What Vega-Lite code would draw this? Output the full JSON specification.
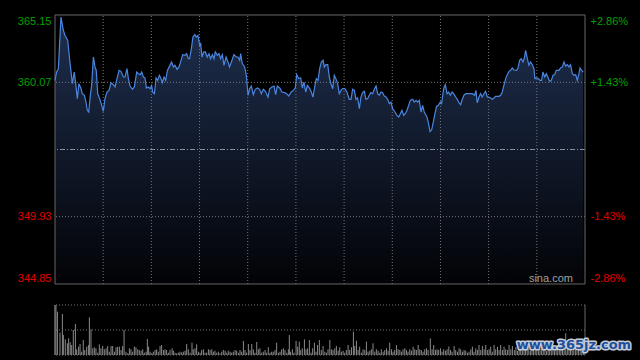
{
  "$schema": "https://vega.github.io/schema/vega-lite/v6.json",
  "width": 530,
  "height": 340,
  "autosize": {"type": "none"},
  "padding": {"left": 55, "top": 15, "right": 55, "bottom": 5},
  "background": "#000000",
  "config": {
    "view": {"stroke": null},
    "axis": {"domain": false, "ticks": false, "grid": false, "labelFont": "Liberation Sans", "labelFontSize": 11}
  },
  "datasets": {
    "price": [
      {"t":0,"p":360.22},{"t":1.0,"p":360.85},{"t":2.1,"p":361.10},{"t":3.7,"p":365.00},{"t":5.2,"p":363.99},{"t":6.2,"p":363.62},{"t":7.9,"p":363.24},{"t":9.3,"p":361.60},{"t":10.8,"p":359.97},{"t":12.0,"p":360.85},{"t":12.9,"p":359.97},{"t":13.9,"p":358.84},{"t":14.9,"p":359.97},{"t":16.2,"p":359.59},{"t":17.0,"p":359.21},{"t":18.3,"p":359.09},{"t":19.3,"p":358.58},{"t":20.1,"p":357.96},{"t":21.0,"p":357.83},{"t":22.0,"p":359.09},{"t":22.8,"p":359.84},{"t":23.9,"p":361.98},{"t":24.9,"p":361.23},{"t":25.7,"p":360.97},{"t":26.6,"p":359.21},{"t":27.8,"p":358.84},{"t":29.1,"p":358.33},{"t":30.1,"p":357.88},{"t":31.1,"p":358.84},{"t":32.4,"p":359.34},{"t":33.6,"p":359.46},{"t":34.9,"p":360.04},{"t":36.3,"p":359.89},{"t":37.4,"p":359.72},{"t":38.6,"p":360.35},{"t":39.9,"p":360.97},{"t":41.1,"p":360.90},{"t":42.6,"p":360.47},{"t":43.6,"p":360.47},{"t":44.8,"p":361.10},{"t":45.7,"p":360.35},{"t":46.7,"p":359.79},{"t":48.2,"p":359.54},{"t":49.4,"p":359.72},{"t":50.9,"p":360.85},{"t":51.9,"p":360.72},{"t":53.1,"p":360.65},{"t":54.0,"p":360.85},{"t":55.0,"p":360.47},{"t":56.0,"p":360.40},{"t":56.9,"p":359.64},{"t":58.1,"p":359.72},{"t":59.2,"p":359.59},{"t":60.2,"p":359.84},{"t":60.8,"p":359.34},{"t":61.9,"p":359.21},{"t":62.9,"p":360.40},{"t":63.9,"p":360.22},{"t":65.0,"p":360.60},{"t":66.0,"p":360.35},{"t":66.8,"p":360.04},{"t":67.9,"p":360.47},{"t":68.9,"p":360.22},{"t":70.0,"p":360.97},{"t":71.6,"p":361.35},{"t":72.6,"p":361.60},{"t":73.7,"p":361.23},{"t":74.7,"p":361.35},{"t":76.0,"p":361.05},{"t":77.2,"p":361.23},{"t":78.5,"p":361.73},{"t":79.5,"p":362.16},{"t":81.0,"p":362.11},{"t":82.0,"p":362.23},{"t":83.0,"p":361.85},{"t":83.8,"p":361.85},
      {"t":84.9,"p":362.61},{"t":85.9,"p":363.49},{"t":87.0,"p":363.67},{"t":88.0,"p":363.49},{"t":89.0,"p":363.61},{"t":90.1,"p":362.86},{"t":90.7,"p":362.99},{"t":91.5,"p":361.98},{"t":92.6,"p":362.36},{"t":93.6,"p":362.36},{"t":94.8,"p":361.98},{"t":95.9,"p":362.23},{"t":96.9,"p":361.85},{"t":98.0,"p":362.16},{"t":99.0,"p":361.85},{"t":99.8,"p":362.36},{"t":101.1,"p":362.11},{"t":102.1,"p":362.23},{"t":103.1,"p":361.85},{"t":104.2,"p":362.16},{"t":105.2,"p":361.35},{"t":106.5,"p":361.98},{"t":107.7,"p":361.60},{"t":108.7,"p":361.23},{"t":110.2,"p":361.73},{"t":111.4,"p":362.16},{"t":112.9,"p":361.98},{"t":113.9,"p":361.98},{"t":115.0,"p":361.73},{"t":115.6,"p":362.23},{"t":116.6,"p":361.48},{"t":118.1,"p":361.23},{"t":119.1,"p":360.60},{"t":120.2,"p":359.09},{"t":121.2,"p":359.59},{"t":122.2,"p":359.79},{"t":123.5,"p":359.14},{"t":124.7,"p":359.54},{"t":126.0,"p":359.64},{"t":127.4,"p":359.54},{"t":128.5,"p":359.21},{"t":129.7,"p":359.54},{"t":131.0,"p":359.39},{"t":132.6,"p":358.96},{"t":133.7,"p":359.59},{"t":135.1,"p":359.72},{"t":136.4,"p":359.79},{"t":137.4,"p":359.14},{"t":138.4,"p":359.79},{"t":139.9,"p":359.64},{"t":141.3,"p":359.34},{"t":143.0,"p":359.29},{"t":144.2,"p":359.21},{"t":145.5,"p":359.04},{"t":147.1,"p":359.34},{"t":148.4,"p":359.46},{"t":149.6,"p":359.64},{"t":150.5,"p":360.65},{"t":151.7,"p":360.35},{"t":153.0,"p":360.40},{"t":154.0,"p":359.64},{"t":155.0,"p":360.09},{"t":156.1,"p":359.34},{"t":157.1,"p":359.84},{"t":158.6,"p":359.59},{"t":159.6,"p":359.34},{"t":160.6,"p":358.96},{"t":161.7,"p":359.72},{"t":162.7,"p":360.35},{"t":163.8,"p":360.22},{"t":164.8,"p":361.10},{"t":165.8,"p":361.60},{"t":166.9,"p":361.73},
      {"t":167.7,"p":361.23},{"t":168.7,"p":361.40},{"t":169.8,"p":361.40},{"t":170.8,"p":360.47},{"t":171.8,"p":359.97},{"t":172.9,"p":359.59},{"t":173.9,"p":360.60},{"t":174.9,"p":360.35},{"t":176.0,"p":359.97},{"t":177.0,"p":359.21},{"t":178.1,"p":359.46},{"t":179.1,"p":359.59},{"t":180.5,"p":359.59},{"t":181.8,"p":359.34},{"t":183.2,"p":358.79},{"t":184.3,"p":358.79},{"t":185.3,"p":359.54},{"t":186.4,"p":359.46},{"t":187.4,"p":358.79},{"t":188.4,"p":358.89},{"t":189.5,"p":358.08},{"t":190.5,"p":358.96},{"t":191.5,"p":359.29},{"t":192.6,"p":359.39},{"t":193.6,"p":358.79},{"t":194.7,"p":358.84},{"t":195.7,"p":359.09},{"t":196.7,"p":359.29},{"t":197.8,"p":359.21},{"t":198.8,"p":359.54},{"t":199.9,"p":359.79},{"t":200.9,"p":359.21},{"t":201.9,"p":359.09},{"t":203.0,"p":359.34},{"t":204.0,"p":359.29},{"t":205.0,"p":359.04},{"t":206.1,"p":358.96},{"t":207.1,"p":358.79},{"t":208.2,"p":358.46},{"t":209.2,"p":358.58},{"t":210.2,"p":358.08},{"t":211.7,"p":357.83},{"t":212.9,"p":357.58},{"t":214.0,"p":357.45},{"t":215.0,"p":357.70},{"t":216.0,"p":357.96},{"t":217.1,"p":357.58},{"t":218.1,"p":357.70},{"t":219.2,"p":357.96},{"t":220.2,"p":358.33},{"t":221.2,"p":358.71},{"t":222.7,"p":358.79},{"t":223.7,"p":358.58},{"t":224.8,"p":358.71},{"t":225.8,"p":358.58},{"t":226.8,"p":358.71},{"t":227.9,"p":357.83},{"t":228.9,"p":358.33},{"t":229.9,"p":357.83},{"t":231.6,"p":357.45},{"t":232.4,"p":357.07},{"t":233.5,"p":356.35},{"t":234.5,"p":356.47},{"t":235.6,"p":357.10},{"t":236.6,"p":357.73},{"t":237.6,"p":358.25},{"t":238.7,"p":358.33},{"t":239.9,"p":358.58},{"t":240.7,"p":358.46},{"t":242.0,"p":359.59},{"t":243.0,"p":359.89},{"t":244.1,"p":359.21},{"t":245.1,"p":359.34},{"t":246.1,"p":359.09},{"t":247.2,"p":359.34},{"t":248.2,"p":359.21},{"t":249.5,"p":358.96},
      {"t":250.5,"p":358.79},{"t":251.5,"p":358.53},{"t":252.6,"p":358.38},{"t":253.6,"p":358.79},{"t":254.6,"p":359.09},{"t":255.7,"p":359.21},{"t":257.7,"p":359.21},{"t":259.8,"p":359.21},{"t":261.3,"p":359.09},{"t":262.1,"p":359.46},{"t":262.9,"p":358.53},{"t":264.0,"p":358.96},{"t":265.0,"p":359.21},{"t":266.0,"p":358.96},{"t":267.1,"p":359.21},{"t":268.1,"p":359.39},{"t":269.2,"p":358.96},{"t":270.2,"p":358.96},{"t":271.2,"p":358.89},{"t":272.3,"p":358.79},{"t":273.3,"p":358.89},{"t":274.3,"p":359.01},{"t":276.4,"p":359.01},{"t":277.5,"p":359.09},{"t":278.5,"p":359.34},{"t":279.5,"p":359.84},{"t":280.6,"p":360.35},{"t":281.6,"p":360.65},{"t":282.7,"p":360.90},{"t":283.7,"p":360.97},{"t":284.7,"p":361.15},{"t":285.8,"p":361.00},{"t":287.4,"p":360.97},{"t":288.3,"p":361.15},{"t":289.3,"p":361.73},{"t":290.3,"p":361.85},{"t":291.4,"p":361.60},{"t":292.4,"p":361.98},{"t":293.0,"p":362.48},{"t":294.1,"p":361.85},{"t":295.1,"p":361.35},{"t":296.1,"p":361.60},{"t":297.2,"p":361.40},{"t":298.2,"p":361.10},{"t":298.8,"p":360.35},{"t":299.9,"p":360.40},{"t":300.9,"p":360.35},{"t":302.0,"p":360.22},{"t":303.0,"p":360.22},{"t":303.8,"p":360.85},{"t":304.9,"p":360.47},{"t":305.9,"p":360.72},{"t":306.9,"p":360.47},{"t":308.0,"p":360.14},{"t":309.0,"p":360.22},{"t":310.1,"p":360.60},{"t":311.1,"p":360.65},{"t":312.1,"p":360.97},{"t":313.8,"p":360.97},{"t":314.8,"p":361.15},{"t":315.9,"p":361.23},{"t":316.9,"p":361.60},{"t":317.9,"p":361.30},{"t":319.0,"p":361.40},{"t":320.0,"p":361.23},{"t":321.0,"p":361.40},{"t":322.1,"p":360.72},{"t":323.1,"p":360.60},{"t":324.2,"p":360.65},{"t":325.2,"p":360.22},{"t":326.2,"p":360.72},{"t":326.9,"p":361.15},{"t":327.9,"p":360.97},{"t":328.9,"p":360.85}
    ],
    "volume": [
      {"t":0,"v":50},{"t":0.6,"v":50},{"t":1.5,"v":43.3},{"t":3.1,"v":22.3},{"t":4.6,"v":41},{"t":5.2,"v":20},{"t":6.4,"v":15.7},{"t":7.7,"v":11.7},{"t":8.5,"v":16.7},{"t":9.5,"v":12.7},{"t":10.4,"v":10},{"t":11.4,"v":25},{"t":12.7,"v":31},{"t":13.5,"v":5.7},{"t":14.7,"v":8.3},{"t":15.6,"v":11},{"t":16.6,"v":3.3},{"t":17.6,"v":15},{"t":18.5,"v":5},{"t":19.7,"v":8.3},{"t":20.8,"v":10},{"t":21.4,"v":37.7},{"t":22.4,"v":25.7},{"t":23.5,"v":6.7},{"t":24.5,"v":7.7},{"t":25.5,"v":6.7},{"t":26.6,"v":2.3},{"t":27.6,"v":10.7},{"t":28.6,"v":6.7},{"t":29.7,"v":9},{"t":30.7,"v":5.7},{"t":31.8,"v":6.7},{"t":32.8,"v":9},{"t":33.8,"v":3.3},{"t":34.9,"v":9},{"t":35.9,"v":9},{"t":37,"v":3.3},{"t":38,"v":7.7},{"t":39,"v":8.3},{"t":40.1,"v":8.3},{"t":41.1,"v":5},{"t":42.1,"v":9},{"t":43,"v":25},{"t":44.2,"v":3.3},{"t":45.3,"v":1.7},{"t":46.3,"v":6.7},{"t":47.3,"v":5.7},{"t":48.4,"v":3.3},{"t":49.4,"v":8.3},{"t":50.4,"v":7.7},{"t":51.5,"v":5.7},{"t":52.5,"v":5},{"t":53.6,"v":4.3},{"t":54.6,"v":5.7},{"t":55.6,"v":2.3},{"t":56.7,"v":3.3},{"t":57.5,"v":16},{"t":58.3,"v":8.3},{"t":59.2,"v":3.3},{"t":60.2,"v":1.7},{"t":61.2,"v":3.3},{"t":62.3,"v":5},{"t":63.3,"v":5.7},{"t":64.3,"v":3.3},{"t":65.4,"v":9},{"t":66.4,"v":10},{"t":67.5,"v":5},{"t":68.5,"v":5.7},{"t":69.5,"v":5},{"t":70.6,"v":2.3},{"t":71.6,"v":5},{"t":72.9,"v":6.7},{"t":73.7,"v":4.3},{"t":74.7,"v":2.3},{"t":75.8,"v":1.7},{"t":76.8,"v":2.3},{"t":77.8,"v":3.3},{"t":78.9,"v":2.7},{"t":79.9,"v":3.3},{"t":81,"v":4.3},{"t":82,"v":11},{"t":83,"v":5.7},{"t":84.1,"v":2.3},{"t":85.3,"v":12.3},{"t":86.1,"v":5.7},{"t":87.2,"v":6.7},{"t":88.2,"v":10.7},{"t":89.3,"v":3.3},{"t":90.3,"v":2.3},{"t":91.3,"v":5},{"t":92.4,"v":5.7},{"t":93.4,"v":2.3},{"t":94.4,"v":2.3},{"t":95.5,"v":5.7},{"t":96.5,"v":5},{"t":97.6,"v":5.7},{"t":98.6,"v":3.3},{"t":99.6,"v":4.3},{"t":100.7,"v":2.3},{"t":101.7,"v":3.3},{"t":102.7,"v":1.7},{"t":103.8,"v":3.3},{"t":104.8,"v":5},{"t":105.9,"v":4.3},{"t":106.9,"v":2.3},{"t":107.9,"v":4.3},{"t":109,"v":3.3},{"t":110,"v":2.3},{"t":111,"v":3.3},{"t":112.1,"v":5},{"t":113.1,"v":4.3},{"t":114.2,"v":2.3},{"t":115.2,"v":5},{"t":116.2,"v":3.3},{"t":117.3,"v":14},{"t":118.3,"v":5},{"t":119.3,"v":2.3},{"t":120.4,"v":11},{"t":121.4,"v":5},{"t":122.5,"v":11},{"t":123.5,"v":5.7},{"t":124.5,"v":2.3},{"t":125.6,"v":13},{"t":126.6,"v":5.7},{"t":127.6,"v":6.7},{"t":128.7,"v":2.3},{"t":129.7,"v":3.3},{"t":130.8,"v":5},{"t":131.8,"v":2.3},{"t":132.8,"v":7.7},{"t":133.9,"v":2.3},{"t":134.9,"v":3.3},{"t":135.9,"v":3.3},{"t":137,"v":5},{"t":138,"v":12.3},{"t":139.1,"v":2.3},{"t":140.1,"v":3.3},{"t":141.1,"v":5.7},{"t":142.2,"v":6.7},{"t":143.2,"v":5},{"t":144.3,"v":2.3},{"t":145.3,"v":5.7},{"t":145.9,"v":20},{"t":146.7,"v":3.3},{"t":147.8,"v":5.7},{"t":148.8,"v":2.3},{"t":150.1,"v":14},{"t":151.1,"v":8.3},{"t":152.1,"v":13.3},{"t":153,"v":5},{"t":154,"v":6.7},{"t":155.3,"v":15.7},{"t":156.3,"v":5.7},{"t":157.3,"v":6.7},{"t":158.4,"v":15},{"t":159.4,"v":2.3},{"t":160.4,"v":6.7},{"t":161.5,"v":12.3},{"t":162.5,"v":3.3},{"t":163.5,"v":10},{"t":164.6,"v":15},
      {"t":165.8,"v":5},{"t":166.9,"v":9},{"t":168,"v":3.3},{"t":169,"v":2.3},{"t":170,"v":5.7},{"t":171.1,"v":15},{"t":172.1,"v":5.7},{"t":173.1,"v":5},{"t":174.2,"v":6.7},{"t":175.2,"v":9},{"t":176.3,"v":4.3},{"t":177.3,"v":7.7},{"t":178.3,"v":3.3},{"t":179.4,"v":4.3},{"t":180.4,"v":2.3},{"t":181.4,"v":5},{"t":182.5,"v":10},{"t":183.5,"v":5},{"t":184.6,"v":7.7},{"t":185.8,"v":23.3},{"t":186.6,"v":9},{"t":187.7,"v":14.3},{"t":188.7,"v":5},{"t":189.7,"v":8.3},{"t":190.8,"v":2.3},{"t":191.8,"v":5.7},{"t":192.9,"v":5},{"t":193.9,"v":13.3},{"t":194.9,"v":3.3},{"t":196,"v":4.3},{"t":197,"v":5.7},{"t":198,"v":11.7},{"t":199.1,"v":3.3},{"t":200.1,"v":5.7},{"t":201.2,"v":4.3},{"t":202.2,"v":2.3},{"t":203.2,"v":5.7},{"t":204.3,"v":3.3},{"t":205.3,"v":5},{"t":206.4,"v":6.7},{"t":207.4,"v":4.3},{"t":208.4,"v":12.3},{"t":209.5,"v":5.7},{"t":210.5,"v":3.3},{"t":211.5,"v":5},{"t":212.6,"v":10},{"t":213.6,"v":5.7},{"t":214.7,"v":5},{"t":215.7,"v":3.3},{"t":216.7,"v":5.7},{"t":217.8,"v":6.7},{"t":218.8,"v":5},{"t":219.8,"v":3.3},{"t":220.9,"v":5.7},{"t":221.9,"v":4.3},{"t":223,"v":8.3},{"t":224,"v":5.7},{"t":225,"v":5},{"t":226.1,"v":10},{"t":227.1,"v":5.7},{"t":228.1,"v":5},{"t":229.2,"v":3.3},{"t":230.2,"v":5.7},{"t":231.3,"v":6.7},{"t":232.3,"v":5},{"t":233.7,"v":16.7},{"t":234.8,"v":5.7},{"t":235.8,"v":10},{"t":236.9,"v":5},{"t":237.9,"v":5.7},{"t":238.9,"v":5},{"t":240,"v":6.7},{"t":241,"v":3.3},{"t":242,"v":5.7},{"t":243.1,"v":4.3},{"t":244.1,"v":5.7},{"t":245.2,"v":8.3},{"t":246.2,"v":5},{"t":247.2,"v":3.3},{"t":248.5,"v":9},{"t":249.5,"v":5},{"t":250.6,"v":3.3},{"t":251.6,"v":6.7},{"t":252.6,"v":5.7},{"t":253.7,"v":3.3},{"t":254.7,"v":5},{"t":255.7,"v":4.3},{"t":256.8,"v":2.3},{"t":257.8,"v":3.3},{"t":258.9,"v":5.7},{"t":259.9,"v":8.3},{"t":260.9,"v":3.3},{"t":262,"v":6.7},{"t":263,"v":5},{"t":264,"v":10},{"t":265.1,"v":5},{"t":266.1,"v":9},{"t":267.2,"v":5.7},{"t":268.2,"v":10},{"t":269.2,"v":5},{"t":270.3,"v":5.7},{"t":271.3,"v":8.3},{"t":272.3,"v":3.3},{"t":273.4,"v":10},{"t":274.4,"v":5.7},{"t":275.5,"v":8.3},{"t":276.5,"v":5},{"t":277.5,"v":10},{"t":278.6,"v":5},{"t":279.6,"v":8.3},{"t":280.6,"v":5.7},{"t":281.7,"v":5},{"t":282.7,"v":10},{"t":283.8,"v":5.7},{"t":284.8,"v":9},
      {"t":286,"v":5},{"t":287,"v":8},{"t":288,"v":4},{"t":289,"v":6},{"t":290,"v":9},{"t":291,"v":5},{"t":292,"v":7},{"t":293,"v":12},{"t":294,"v":5},{"t":295,"v":8},{"t":296,"v":4},{"t":297,"v":6},{"t":298,"v":9},{"t":299,"v":5},{"t":300,"v":7},{"t":301,"v":4},{"t":302,"v":6},{"t":303,"v":8},{"t":304,"v":5},{"t":305,"v":7},{"t":306,"v":4},{"t":307,"v":6},{"t":308,"v":9},{"t":309,"v":5},{"t":310,"v":6},{"t":311,"v":4},{"t":312,"v":7},{"t":313,"v":5},{"t":314,"v":8},{"t":315,"v":6},{"t":316,"v":5},{"t":317,"v":7},{"t":318,"v":21.7},{"t":319,"v":6},{"t":320,"v":5},{"t":321,"v":8},{"t":322,"v":4},{"t":323,"v":6},{"t":324,"v":7},{"t":325,"v":5},{"t":326,"v":9},{"t":327,"v":6},{"t":328,"v":8},{"t":329,"v":12}
    ],
    "grid": [{"g":30},{"g":60},{"g":90},{"g":120},{"g":150},{"g":180},{"g":210},{"g":240},{"g":270},{"g":300}]
  },
  "layer": [
    {
      "layer": [
        {
          "data": {"name": "price"},
          "mark": {"type": "area", "color": {"x1": 0, "y1": 0, "x2": 0, "y2": 1, "gradient": "linear", "stops": [{"offset": 0, "color": "#1f2f4f"}, {"offset": 1, "color": "#020306"}]}},
          "encoding": {
            "x": {"field": "t", "type": "quantitative", "scale": {"domain": [0, 330], "nice": false, "zero": false}, "axis": null},
            "y": {"field": "p", "type": "quantitative", "scale": {"domain": [339.492, 365.15], "nice": false, "zero": false}, "axis": null},
            "y2": {"datum": 344.85}
          }
        },
        {
          "data": {"name": "grid"},
          "mark": {"type": "rule", "color": "#777777", "strokeWidth": 1, "strokeDash": [1, 2]},
          "encoding": {
            "x": {"field": "g", "type": "quantitative", "axis": null},
            "y": {"datum": 344.85, "type": "quantitative", "axis": null},
            "y2": {"datum": 365.15}
          }
        },
        {
          "data": {"values": [{}]},
          "mark": {"type": "rule", "color": "#777777", "strokeWidth": 1, "strokeDash": [1, 2]},
          "encoding": {"y": {"datum": 360.07, "type": "quantitative", "axis": null}}
        },
        {
          "data": {"values": [{}]},
          "mark": {"type": "rule", "color": "#777777", "strokeWidth": 1, "strokeDash": [1, 2]},
          "encoding": {"y": {"datum": 349.93, "type": "quantitative", "axis": null}}
        },
        {
          "data": {"values": [{}]},
          "mark": {"type": "rule", "color": "#8a92a2", "strokeWidth": 1, "strokeDash": [5, 2, 1, 2]},
          "encoding": {"y": {"datum": 355, "type": "quantitative", "axis": null}}
        },
        {
          "data": {"values": [{}]},
          "mark": {"type": "rect", "fillOpacity": 0, "stroke": "#666666", "strokeWidth": 1},
          "encoding": {
            "x": {"datum": 0, "type": "quantitative", "axis": null},
            "x2": {"datum": 330},
            "y": {"datum": 344.85, "type": "quantitative", "axis": null},
            "y2": {"datum": 365.15}
          }
        },
        {
          "data": {"name": "price"},
          "mark": {"type": "line", "color": "#4a86e0", "strokeWidth": 1.2},
          "encoding": {
            "x": {"field": "t", "type": "quantitative", "axis": null},
            "y": {"field": "p", "type": "quantitative", "axis": null}
          }
        },
        {
          "data": {"values": [{}]},
          "mark": {"type": "text", "text": "sina.com", "align": "right", "baseline": "middle", "font": "Liberation Sans", "fontSize": 11, "color": "#a0a0a0"},
          "encoding": {
            "x": {"datum": 322.5, "type": "quantitative", "axis": null},
            "y": {"datum": 345.25, "type": "quantitative", "axis": null}
          }
        }
      ]
    },
    {
      "layer": [
        {
          "data": {"name": "volume"},
          "mark": {"type": "rule", "color": "#8a8a8a", "strokeWidth": 1},
          "encoding": {
            "x": {"field": "t", "type": "quantitative", "axis": null},
            "y": {"field": "v", "type": "quantitative", "scale": {"domain": [0, 340], "nice": false, "zero": true}, "axis": null},
            "y2": {"datum": 0}
          }
        },
        {
          "data": {"values": [{"lv": 0}, {"lv": 25}, {"lv": 50}]},
          "mark": {"type": "rule", "color": "#777777", "strokeWidth": 1, "strokeDash": [1, 2]},
          "encoding": {"y": {"field": "lv", "type": "quantitative", "axis": null}}
        },
        {
          "data": {"values": [{"bx": 0}, {"bx": 330}]},
          "mark": {"type": "rule", "color": "#666666", "strokeWidth": 1},
          "encoding": {
            "x": {"field": "bx", "type": "quantitative", "axis": null},
            "y": {"datum": 0, "type": "quantitative", "axis": null},
            "y2": {"datum": 50}
          }
        },
        {
          "data": {"values": [{}]},
          "mark": {"type": "text", "text": "www.365jz.com", "align": "left", "baseline": "middle", "font": "DejaVu Sans", "fontWeight": "bold", "fontSize": 13, "fill": "#c4ccd8", "stroke": "#c4ccd8", "strokeWidth": 3, "strokeJoin": "round"},
          "encoding": {
            "x": {"datum": 287.5, "type": "quantitative", "axis": null},
            "y": {"datum": 10, "type": "quantitative", "axis": null}
          }
        },
        {
          "data": {"values": [{}]},
          "mark": {"type": "text", "text": "www.365jz.com", "align": "left", "baseline": "middle", "font": "DejaVu Sans", "fontWeight": "bold", "fontSize": 13, "fill": "#1f4f9c"},
          "encoding": {
            "x": {"datum": 287.5, "type": "quantitative", "axis": null},
            "y": {"datum": 10, "type": "quantitative", "axis": null}
          }
        }
      ]
    },
    {
      "data": {"values": [{}]},
      "mark": {"type": "rule", "opacity": 0},
      "encoding": {
        "y": {"datum": 355, "type": "quantitative", "scale": {"domain": [339.492, 365.15], "nice": false, "zero": false},
          "axis": {"orient": "right", "title": null, "values": [344.85, 349.93, 360.07, 365.15], "labelPadding": 5, "labelOverlap": false, "labelBound": false, "labelFlush": false,
            "labelExpr": "(datum.value > 355 ? '+' : '-') + format(abs(datum.value - 355) / 355 * 100, '.2f') + '%'",
            "labelAlign": "left",
            "labelColor": {"condition": {"test": "datum.value > 355", "value": "#00a000"}, "value": "#e00000"},
            "labelBaseline": {"condition": [{"test": "datum.value > 365", "value": "top"}, {"test": "datum.value < 345", "value": "bottom"}], "value": "middle"}}}
      }
    },
    {
      "data": {"values": [{}]},
      "mark": {"type": "rule", "opacity": 0},
      "encoding": {
        "y": {"datum": 355, "type": "quantitative", "scale": {"domain": [339.492, 365.15], "nice": false, "zero": false},
          "axis": {"orient": "left", "title": null, "values": [344.85, 349.93, 360.07, 365.15], "format": ".2f", "labelPadding": 4, "labelOverlap": false, "labelBound": false, "labelFlush": false,
            "labelAlign": "right",
            "labelColor": {"condition": {"test": "datum.value > 355", "value": "#00a000"}, "value": "#e00000"},
            "labelBaseline": {"condition": [{"test": "datum.value > 365", "value": "top"}, {"test": "datum.value < 345", "value": "bottom"}], "value": "middle"}}}
      }
    }
  ],
  "resolve": {"scale": {"y": "independent"}}
}
